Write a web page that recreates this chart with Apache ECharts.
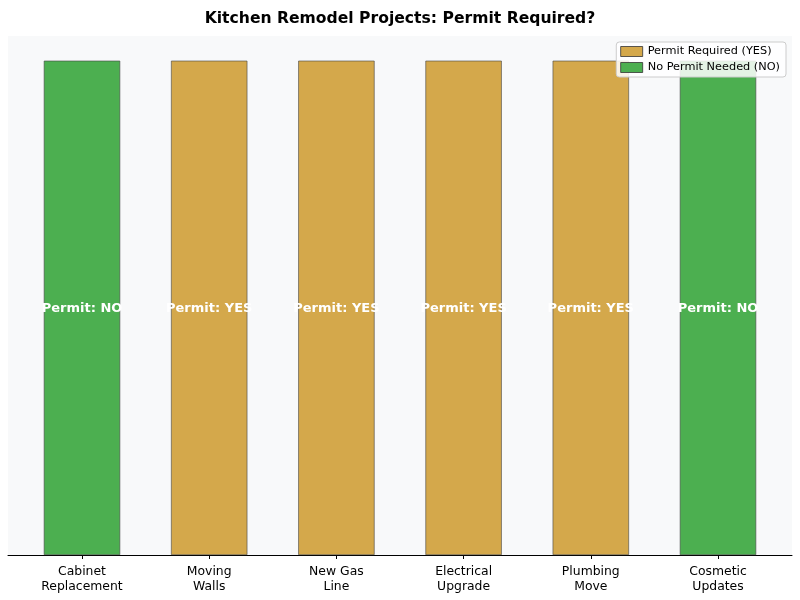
<!DOCTYPE html>
<html><head><meta charset="utf-8">
<script src="https://cdn.jsdelivr.net/npm/echarts@6/dist/echarts.min.js"></script>
<style>html,body{margin:0;padding:0;background:#fff}#c{width:800px;height:600px}</style>
</head><body><div id="c"></div>
<script>
const categories = ['Cabinet\nReplacement', 'Moving\nWalls', 'New Gas\nLine', 'Electrical\nUpgrade', 'Plumbing\nMove', 'Cosmetic\nUpdates'];
const permitRequired = [false, true, true, true, true, false];
const barValues = [1, 1, 1, 1, 1, 1];
const seriesNames = ['Permit Required (YES)', 'No Permit Needed (NO)'];
const labelTexts = ['Permit: YES', 'Permit: NO'];

const FONT = 'DejaVu Sans';
const yesData = barValues.map((v, i) => permitRequired[i] ? v : '-');
const noData = barValues.map((v, i) => permitRequired[i] ? '-' : v);

const chart = echarts.init(document.getElementById('c'));
chart.setOption({
  animation: false,
  textStyle: { fontFamily: FONT },
  title: {
    text: 'Kitchen Remodel Projects: Permit Required?',
    left: 'center', top: 6,
    textStyle: { fontFamily: FONT, fontSize: 15.6, fontWeight: 'bold', color: '#000' }
  },
  legend: {
    right: 14, top: 42, orient: 'vertical', icon: 'rect',
    itemWidth: 22, itemHeight: 10, itemGap: 5,
    itemStyle: { borderColor: '#333', borderWidth: 0.8 },
    backgroundColor: 'rgba(255,255,255,0.85)', borderColor: '#ccc', borderWidth: 1, borderRadius: 3,
    padding: [4, 6, 4, 4],
    textStyle: { fontFamily: FONT, fontSize: 11.3, color: '#000' },
    data: seriesNames
  },
  grid: [
    { left: 8, right: 8, top: 36, bottom: 45, show: true, backgroundColor: '#f8f9fa', borderWidth: 0 },
    { left: 18.4, right: 18.4, top: 36, bottom: 45 }
  ],
  xAxis: [
    { type: 'value', gridIndex: 0, min: 0, max: 1, axisLine: { show: true, onZero: false, lineStyle: { color: '#000', width: 1 } },
      axisTick: { show: false }, axisLabel: { show: false }, splitLine: { show: false } },
    { type: 'category', gridIndex: 1, data: categories,
      axisLine: { show: false }, axisTick: { show: true, alignWithLabel: true, length: 4, lineStyle: { color: '#000' } },
      axisLabel: { fontFamily: FONT, fontSize: 12.4, color: '#000', lineHeight: 15, margin: 9 } }
  ],
  yAxis: [
    { type: 'value', gridIndex: 0, show: false, min: 0, max: 1 },
    { type: 'value', gridIndex: 1, show: false, min: 0, max: 1.05 }
  ],
  series: [
    { name: seriesNames[0], type: 'bar', xAxisIndex: 1, yAxisIndex: 1, data: yesData, barWidth: '60%', barGap: '-100%',
      itemStyle: { color: '#D4A84B', borderColor: '#444', borderWidth: 0.6 },
      label: { show: true, position: 'inside', offset: [0, 1], formatter: labelTexts[0], color: '#fff', fontWeight: 'bold', fontSize: 13, fontFamily: FONT } },
    { name: seriesNames[1], type: 'bar', xAxisIndex: 1, yAxisIndex: 1, data: noData, barWidth: '60%', barGap: '-100%',
      itemStyle: { color: '#4CAF50', borderColor: '#444', borderWidth: 0.6 },
      label: { show: true, position: 'inside', offset: [0, 1], formatter: labelTexts[1], color: '#fff', fontWeight: 'bold', fontSize: 13, fontFamily: FONT } }
  ]
});
</script></body></html>
